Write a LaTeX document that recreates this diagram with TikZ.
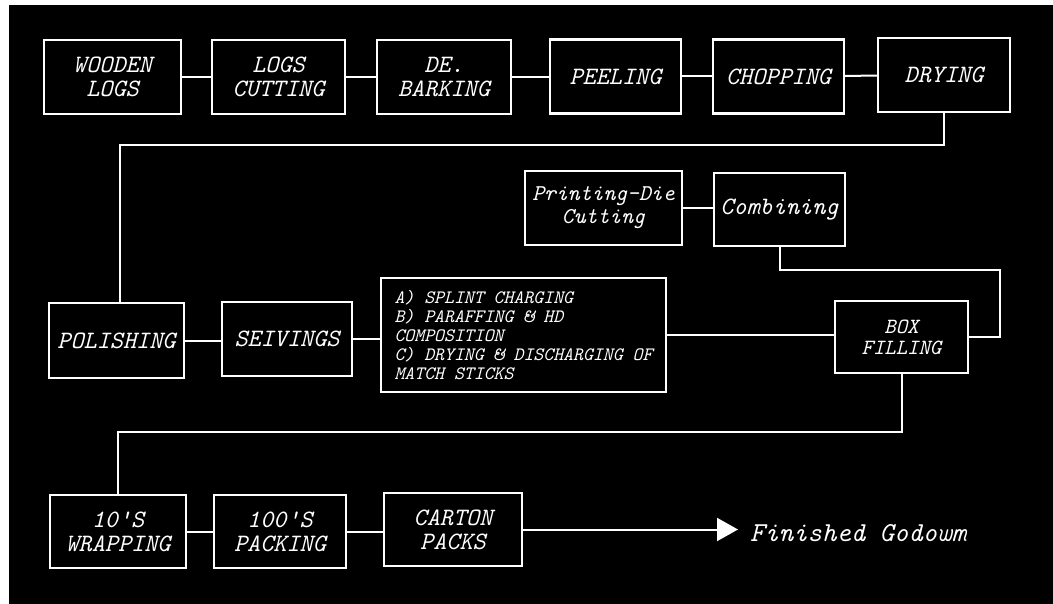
\documentclass[tikz,border=0pt]{standalone}
\usepackage{fontspec}
\usetikzlibrary{arrows.meta}
\begin{document}
\begin{tikzpicture}[x=1pt,y=-1pt,
	stage/.style={draw=white,line width=2.4pt,text=white,inner sep=0pt,align=center,minimum height=74pt,font=\ttfamily\itshape\fontsize{25}{24}\selectfont},
	notes/.style={stage,align=left,font=\ttfamily\itshape\fontsize{18.9}{19}\selectfont},
	link/.style={draw=white,line width=2pt}]
	\useasboundingbox (0,0) rectangle (1053,604);
	\fill[white] (0,0) rectangle (1053,604);
	\fill[black] (9,5) rectangle (1053,604);
	\node[stage,minimum width=137pt] (wood) at (112.5,77) {WOODEN\\LOGS};
	\node[stage,minimum width=133pt] (cut) at (278.5,77) {LOGS\\CUTTING};
	\node[stage,minimum width=134pt] (bark) at (444,77) {DE.\\BARKING};
	\node[stage,minimum width=131pt] (peel) at (615.5,76.5) {PEELING};
	\node[stage,minimum width=131pt] (chop) at (778.5,76.5) {CHOPPING};
	\node[stage,minimum width=132pt] (dry) at (944,75) {DRYING};
	\node[stage,minimum width=157pt,font=\ttfamily\itshape\fontsize{22.6}{23}\selectfont] (print) at (603.5,208) {Printing-Die\\Cutting};
	\node[stage,minimum width=131pt,minimum height=73pt] (comb) at (779.5,209.5) {Combining};
	\node[stage,minimum width=135pt,minimum height=75pt] (polish) at (116.5,340.5) {POLISHING};
	\node[stage,minimum width=130pt] (seive) at (287,339) {SEIVINGS};
	\node[notes,minimum width=285pt,minimum height=114pt] (dip) at (523.5,335) {A) SPLINT CHARGING\\B) PARAFFING \& HD\\COMPOSITION\\C) DRYING \& DISCHARGING OF\\MATCH STICKS};
	\node[stage,minimum width=133pt,minimum height=72pt,font=\ttfamily\itshape\fontsize{21.7}{21}\selectfont] (fill) at (901.5,337) {BOX\\FILLING};
	\node[stage,minimum width=136pt,minimum height=73pt] (wrap) at (118,531.5) {10'S\\WRAPPING};
	\node[stage,minimum width=132pt,minimum height=73pt] (pack) at (280,531.5) {100'S\\PACKING};
	\node[stage,minimum width=138pt,minimum height=73pt] (carton) at (453,529.5) {CARTON\\PACKS};
	\node[anchor=west,inner sep=0pt,inner xsep=12pt,text=white,font=\ttfamily\itshape\fontsize{27.4}{26}\selectfont] (godown) at (738,533) {Finished Godowm};
	\coordinate (topturn) at (500,145);
	\coordinate (sideturn) at (1000,270);
	\coordinate (lowturn) at (500,432);
	\draw[link] (wood) -- (cut);
	\draw[link] (cut) -- (bark);
	\draw[link] (bark.east) -- (bark.east -| peel.west);
	\draw[link] (peel) -- (chop);
	\draw[link] (chop) -- (dry);
	\draw[link] (dry.south) |- (topturn) -| ([xshift=3pt]polish.north);
	\draw[link] (print.east) -- (print.east -| comb.west);
	\draw[link] (comb.south) |- (sideturn) |- (fill.east);
	\draw[link] (polish.east) -- (polish.east -| seive.west);
	\draw[link] (seive.east) -- (seive.east -| dip.west);
	\draw[link] (dip.east) -- (dip.east -| fill.west);
	\draw[link] (fill.south) |- (lowturn) -| (wrap.north);
	\draw[link] (wrap) -- (pack);
	\draw[link] (pack.east) -- (pack.east -| carton.west);
	\draw[link,-{Triangle[length=21pt,width=23pt]}] (carton.east) -- (carton.east -| godown.west);
\end{tikzpicture}
\end{document}
